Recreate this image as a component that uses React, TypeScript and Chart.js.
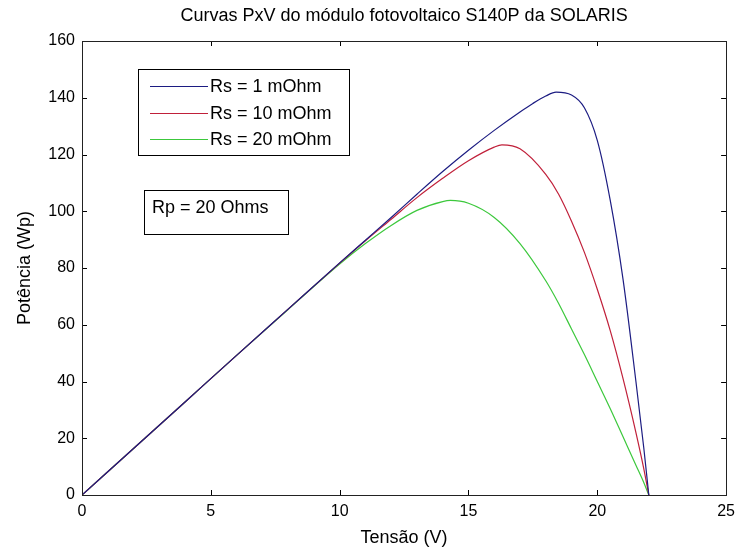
import React, { useEffect, useRef } from "react";
import { Chart, registerables } from "chart.js";

Chart.register(...registerables);

const TITLE = "Curvas PxV do módulo fotovoltaico S140P da SOLARIS";
const X_LABEL = "Tensão (V)";
const Y_LABEL = "Potência (Wp)";
const SERIES_LABELS = ["Rs = 1 mOhm", "Rs = 10 mOhm", "Rs = 20 mOhm"];
const NOTE = "Rp = 20 Ohms";
const SERIES_COLORS = ["#1c1c82", "#c0203a", "#3cc83c"];

const X_TICKS = [0, 5, 10, 15, 20, 25];
const Y_TICKS = [0, 20, 40, 60, 80, 100, 120, 140, 160];

// Rs = 1 mOhm
const V_RS1 = [0, 2, 4, 6, 8, 10, 11, 12, 13, 14, 15, 16, 17, 17.5, 18, 18.4, 19, 19.5, 20, 20.5, 21, 21.5, 21.8, 22];
const P_RS1 = [0, 16.4, 32.8, 49.2, 65.5, 81.8, 89.8, 97.8, 106, 114, 121.5, 128.5, 135, 138, 140.6, 142, 141, 136.5, 125, 104, 76, 40, 17, 0];

// Rs = 10 mOhm
const V_RS10 = [0, 2, 4, 6, 8, 10, 11, 12, 13, 14, 15, 16, 16.3, 17, 18, 18.5, 19, 19.5, 20, 20.5, 21, 21.5, 21.8, 22];
const P_RS10 = [0, 16.4, 32.8, 49.2, 65.5, 81.7, 89.6, 97.2, 104.8, 111.6, 117.8, 122.6, 123.4, 122, 113, 106, 96.5, 85.5, 72.5, 58, 41, 22, 9.5, 0];

// Rs = 20 mOhm
const V_RS20 = [0, 2, 4, 6, 8, 10, 11, 12, 13, 14, 14.3, 15, 16, 17, 18, 18.5, 19, 19.5, 20, 20.5, 21, 21.5, 21.8, 22];
const P_RS20 = [0, 16.4, 32.8, 49.2, 65.4, 81.4, 88.6, 95, 100.3, 103.4, 103.8, 102.8, 97.8, 88.6, 75.5, 67.5, 58.5, 49.5, 40, 30.5, 20.5, 10.5, 4.5, 0];

const SERIES_V = [V_RS1, V_RS10, V_RS20];
const SERIES_P = [P_RS1, P_RS10, P_RS20];

const FONT = "'Liberation Sans', Arial, Helvetica, sans-serif";

const framePlugin = {
  id: "matlabFrame",
  afterDatasetsDraw(chart: any) {
    const { ctx, chartArea: a, scales } = chart;
    const xs = scales.x;
    const ys = scales.y;
    const tl = 5;
    ctx.save();
    ctx.strokeStyle = "#000";
    ctx.lineWidth = 1;
    ctx.beginPath();
    xs.ticks.forEach((t: any) => {
      const px = Math.round(xs.getPixelForValue(t.value)) + 0.5;
      ctx.moveTo(px, a.bottom);
      ctx.lineTo(px, a.bottom - tl);
      ctx.moveTo(px, a.top);
      ctx.lineTo(px, a.top + tl);
    });
    ys.ticks.forEach((t: any) => {
      const py = Math.round(ys.getPixelForValue(t.value)) + 0.5;
      ctx.moveTo(a.left, py);
      ctx.lineTo(a.left + tl, py);
      ctx.moveTo(a.right, py);
      ctx.lineTo(a.right - tl, py);
    });
    ctx.stroke();
    ctx.strokeStyle = "#222";
    ctx.strokeRect(Math.round(a.left) + 0.5, Math.round(a.top) + 0.5, Math.round(a.right - a.left), Math.round(a.bottom - a.top));

    // legend box
    const bx = Math.round(a.left) + 56;
    const by = Math.round(a.top) + 28;
    const bw = 211;
    const bh = 86;
    ctx.fillStyle = "#fff";
    ctx.fillRect(bx, by, bw, bh);
    ctx.strokeStyle = "#000";
    ctx.strokeRect(bx + 0.5, by + 0.5, bw, bh);
    ctx.font = `18px ${FONT}`;
    ctx.textBaseline = "middle";
    ctx.textAlign = "left";
    const rows = [17, 44, 70];
    chart.data.datasets.forEach((ds: any, i: number) => {
      const y = by + rows[i] + 0.5;
      ctx.strokeStyle = ds.borderColor;
      ctx.lineWidth = 1.2;
      ctx.beginPath();
      ctx.moveTo(bx + 12, y);
      ctx.lineTo(bx + 70, y);
      ctx.stroke();
      ctx.fillStyle = "#000";
      ctx.fillText(ds.label, bx + 72, by + rows[i] + 1);
    });

    // note box
    const nx = Math.round(a.left) + 62;
    const ny = Math.round(a.top) + 149;
    ctx.lineWidth = 1;
    ctx.fillStyle = "#fff";
    ctx.fillRect(nx, ny, 144, 44);
    ctx.strokeStyle = "#000";
    ctx.strokeRect(nx + 0.5, ny + 0.5, 144, 44);
    ctx.fillStyle = "#000";
    ctx.fillText(NOTE, nx + 8, ny + 18);
    ctx.restore();
  },
};

export default function App() {
  const ref = useRef<HTMLCanvasElement | null>(null);

  useEffect(() => {
    document.body.style.margin = "0";
    const canvas = ref.current;
    if (!canvas) return;
    const datasets = SERIES_LABELS.map((label, i) => ({
      label,
      data: SERIES_V[i].map((v, j) => ({ x: v, y: SERIES_P[i][j] })),
      borderColor: SERIES_COLORS[i],
      backgroundColor: SERIES_COLORS[i],
      borderWidth: 1.2,
      pointRadius: 0,
      fill: false,
      cubicInterpolationMode: "monotone" as const,
    }));
    const chart = new Chart(canvas, {
      type: "line",
      data: { datasets },
      options: {
        animation: false,
        responsive: false,
        devicePixelRatio: 1,
        layout: { padding: { left: 0, right: 12, top: 0, bottom: 0 } },
        plugins: {
          legend: { display: false },
          tooltip: { enabled: false },
          title: {
            display: true,
            fullSize: false,
            text: TITLE,
            color: "#000",
            font: { family: FONT, size: 18, weight: "normal" },
            padding: { top: 5, bottom: 14.4 },
          },
        },
        scales: {
          x: {
            type: "linear",
            min: 0,
            max: 25,
            afterBuildTicks: (s: any) => {
              s.ticks = X_TICKS.map((v) => ({ value: v }));
            },
            afterFit: (s: any) => {
              s.height = 58;
            },
            grid: { display: false, drawTicks: false },
            border: { display: false },
            ticks: {
              color: "#000",
              padding: 7,
              maxRotation: 0,
              font: { family: FONT, size: 16 },
            },
            title: {
              display: true,
              text: X_LABEL,
              color: "#000",
              font: { family: FONT, size: 18 },
              padding: { top: 0, bottom: 4 },
            },
          },
          y: {
            type: "linear",
            min: 0,
            max: 160,
            afterBuildTicks: (s: any) => {
              s.ticks = Y_TICKS.map((v) => ({ value: v }));
            },
            afterFit: (s: any) => {
              s.width = 82;
            },
            grid: { display: false, drawTicks: false },
            border: { display: false },
            ticks: {
              color: "#000",
              padding: 7,
              font: { family: FONT, size: 16 },
            },
            title: {
              display: true,
              text: Y_LABEL,
              color: "#000",
              font: { family: FONT, size: 18 },
              padding: { top: 14, bottom: 0 },
            },
          },
        },
      },
      plugins: [framePlugin],
    });
    return () => chart.destroy();
  }, []);

  return (
    <div style={{ width: 742, height: 553, background: "#fff" }}>
      <canvas ref={ref} width={742} height={553} style={{ display: "block" }} />
    </div>
  );
}
